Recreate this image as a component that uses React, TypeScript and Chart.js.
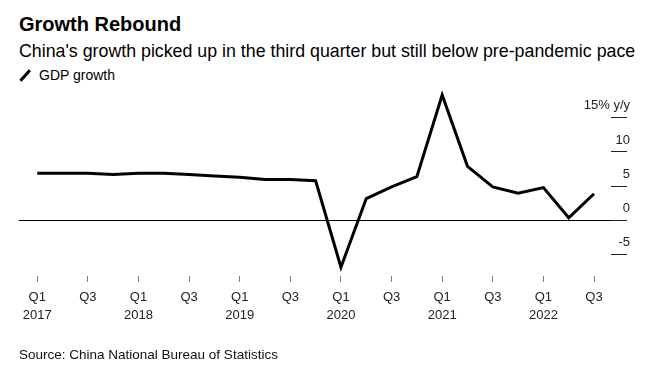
import React, { useEffect, useRef } from "react";
import { Chart, registerables } from "chart.js";

Chart.register(...registerables);

// ---- Data ----
const quarters = [
  "Q1 2017", "Q2 2017", "Q3 2017", "Q4 2017",
  "Q1 2018", "Q2 2018", "Q3 2018", "Q4 2018",
  "Q1 2019", "Q2 2019", "Q3 2019", "Q4 2019",
  "Q1 2020", "Q2 2020", "Q3 2020", "Q4 2020",
  "Q1 2021", "Q2 2021", "Q3 2021", "Q4 2021",
  "Q1 2022", "Q2 2022", "Q3 2022",
];
const gdpGrowth = [
  6.9, 6.9, 6.9, 6.7,
  6.9, 6.9, 6.7, 6.5,
  6.3, 6.0, 6.0, 5.8,
  -6.8, 3.2, 4.9, 6.4,
  18.3, 7.9, 4.9, 4.0,
  4.8, 0.4, 3.9,
];
const xTickIndices = [0, 2, 4, 6, 8, 10, 12, 14, 16, 18, 20, 22];
const xTickLabels: (string | string[])[] = [
  ["Q1", "2017"], "Q3", ["Q1", "2018"], "Q3", ["Q1", "2019"], "Q3",
  ["Q1", "2020"], "Q3", ["Q1", "2021"], "Q3", ["Q1", "2022"], "Q3",
];
const yTickValues = [-5, 0, 5, 10, 15];
const yTickLabels = ["-5", "0", "5", "10", "15% y/y"];

const FONT = "'Liberation Sans', Arial, Helvetica, sans-serif";

export default function App() {
  const canvasRef = useRef<HTMLCanvasElement | null>(null);

  useEffect(() => {
    const canvas = canvasRef.current;
    if (!canvas) return;
    const points = gdpGrowth.map((v, i) => ({ x: i, y: v }));
    const chart = new Chart(canvas, {
      type: "line",
      data: {
        labels: quarters,
        datasets: [
          {
            label: "GDP growth",
            data: points,
            borderColor: "#000000",
            borderWidth: 3,
            pointRadius: 0,
            tension: 0,
            borderJoinStyle: "miter",
            fill: false,
          },
        ],
      },
      options: {
        animation: false,
        responsive: false,
        maintainAspectRatio: false,
        layout: { padding: { left: 19, right: 39, top: 88, bottom: 51 } },
        plugins: {
          legend: { display: false },
          title: { display: false },
          tooltip: { enabled: false },
        },
        scales: {
          x: {
            type: "linear",
            min: -0.72,
            max: 22.67,
            afterBuildTicks: (scale: any) => {
              scale.ticks = xTickIndices.map((v) => ({ value: v }));
            },
            ticks: {
              autoSkip: false,
              maxRotation: 0,
              padding: 7,
              color: "#222222",
              font: { family: FONT, size: 13, lineHeight: 1.35 },
              callback: (value: any) => {
                const idx = xTickIndices.indexOf(Number(value));
                return idx >= 0 ? xTickLabels[idx] : "";
              },
            },
            grid: {
              drawOnChartArea: false,
              drawTicks: true,
              tickLength: 6,
              tickColor: "#777777",
              lineWidth: 1,
            },
            border: { display: false },
          },
          y: {
            type: "linear",
            position: "right",
            min: -8.07,
            max: 19.32,
            afterBuildTicks: (scale: any) => {
              scale.ticks = yTickValues.map((v) => ({ value: v }));
            },
            afterFit: (scale: any) => {
              scale.width = 16;
            },
            ticks: {
              mirror: true,
              padding: 19,
              labelOffset: -12,
              color: "#222222",
              font: { family: FONT, size: 13 },
              callback: (value: any) => {
                const idx = yTickValues.indexOf(Number(value));
                return idx >= 0 ? yTickLabels[idx] : "";
              },
            },
            grid: {
              drawOnChartArea: true,
              drawTicks: true,
              tickLength: 16,
              lineWidth: 1,
              color: (ctx: any) =>
                ctx.tick && ctx.tick.value === 0 ? "#000000" : "rgba(0,0,0,0)",
              tickColor: "#222222",
            },
            border: { display: false },
          },
        },
      },
    });
    return () => chart.destroy();
  }, []);

  const base: React.CSSProperties = {
    position: "absolute",
    left: 19,
    margin: 0,
    whiteSpace: "nowrap",
    fontFamily: FONT,
    color: "#000",
  };

  return (
    <div
      style={{
        position: "absolute",
        left: 0,
        top: 0,
        width: 666,
        height: 382,
        background: "#ffffff",
        overflow: "hidden",
      }}
    >
      <div style={{ ...base, top: 14, fontSize: 20, lineHeight: "20px", fontWeight: 700 }}>
        Growth Rebound
      </div>
      <div style={{ ...base, top: 41.5, fontSize: 17.8, lineHeight: "18px" }}>
        China's growth picked up in the third quarter but still below pre-pandemic pace
      </div>
      <div
        style={{
          position: "absolute",
          left: 18,
          top: 73.5,
          width: 14,
          height: 2.6,
          background: "#000",
          transform: "rotate(-48deg)",
        }}
      />
      <div style={{ ...base, left: 39, top: 68, fontSize: 14, lineHeight: "14px" }}>
        GDP growth
      </div>
      <canvas
        ref={canvasRef}
        width={666}
        height={382}
        style={{ position: "absolute", left: 0, top: 0, width: 666, height: 382 }}
      />
      <div style={{ ...base, top: 348, fontSize: 13.5, lineHeight: "13.5px", color: "#111" }}>
        Source: China National Bureau of Statistics
      </div>
    </div>
  );
}
